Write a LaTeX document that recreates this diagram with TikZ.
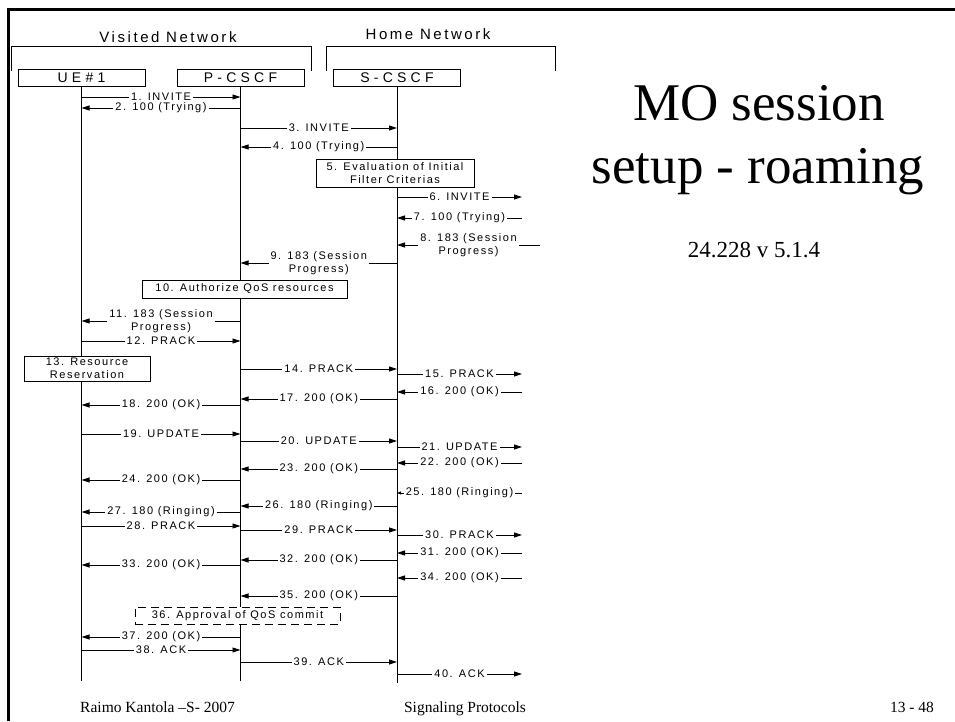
\documentclass[tikz,border=0pt]{standalone}
\usepackage{fontspec}
\setmainfont{Liberation Serif}
\newfontfamily\sanssp[LetterSpace=14]{Liberation Sans}
\newfontfamily\sanshdr[LetterSpace=17]{Liberation Sans}
\newfontfamily\sanswide[LetterSpace=30]{Liberation Sans}
\usetikzlibrary{arrows.meta}

\begin{document}
\begin{tikzpicture}[x=1pt, y=-1pt,
      ent/.style={draw, fill=white, line width=0.8pt, minimum width=127pt,
                  minimum height=17pt, inner sep=0pt,
                  font=\sanswide\fontsize{14}{16}\selectfont},
      act/.style={draw, fill=white, line width=0.8pt, inner sep=0pt, align=center,
                  font=\sanssp\fontsize{11}{13}\selectfont},
      lbl/.style={fill=white, inner xsep=2pt, inner ysep=0.5pt, align=center,
                  font=\sanssp\fontsize{11}{13}\selectfont},
      hdr/.style={font=\sanshdr\fontsize{15}{17}\selectfont},
      foot/.style={anchor=base, font=\fontsize{15.5}{18}\selectfont},
      life/.style={line width=0.8pt},
      >={Triangle[length=8pt,width=5pt]}, line width=0.8pt]
    \useasboundingbox (0,0) rectangle (955,721);
    \draw[line width=3pt] (8,721) -- (8,9.5) -- (955,9.5);

    % networks
    \node[hdr] (vis) at (168,37.5) {Visited Network};
    \node[hdr] (home) at (428,34) {Home Network};
    \draw (11.5,71) |- (311,46) -- (311,71);
    \draw (326,71) |- (555,46) -- (555,71);

    % entities and lifelines
    \node[ent] (ue) at (81.5,77.5) {UE\#1};
    \node[ent] (pc) at (240.5,77.5) {P-CSCF};
    \node[ent] (sc) at (397,77.5) {S-CSCF};
    \coordinate (ueEnd) at (81.5,681);
    \coordinate (pcEnd) at (240.5,681);
    \coordinate (scEnd) at (397,683);
    \coordinate (far) at (522,0);
    \coordinate (far8) at (540,0);
    \draw[life](ue)--(ueEnd);\draw[life](pc)--(pcEnd);\draw[life](sc)--(scEnd);

    % actions
    \node[act, minimum width=158pt, minimum height=28pt] (ifc) at (395,173)
      {5. Evaluation of Initial\\Filter Criterias};
    \node[act, minimum width=205pt, minimum height=18pt] (auth) at (244.5,289)
      {10. Authorize QoS resources};
    \node[act, minimum width=126pt, minimum height=25pt] (resv) at (87,368.5)
      {13. Resource\\Reservation};
    \node[act, dash pattern=on 8pt off 5pt, minimum width=205pt, minimum height=17pt]
      (commit) at (237.5,615.5) {36. Approval of QoS commit};

    % messages
    \draw[->](ue |- 0,97)--node[lbl]{1. INVITE}(pc |- 0,97);
    \draw[->](pc |- 0,108)--node[lbl]{2. 100 (Trying)}(ue |- 0,108);
    \draw[->](pc |- 0,128)--node[lbl]{3. INVITE}(sc |- 0,128);
    \draw[->](sc |- 0,147)--node[lbl]{4. 100 (Trying)}(pc |- 0,147);
    \draw[->](sc |- 0,197)--node[lbl]{6. INVITE}(far |- 0,197);
    \draw[->](far |- 0,218)--node[lbl]{7. 100 (Trying)}(sc |- 0,218);
    \draw[->](far8 |- 0,245)--node[lbl]{8. 183 (Session\\Progress)}(sc |- 0,245);
    \draw[->](sc |- 0,263)--node[lbl]{9. 183 (Session\\Progress)}(pc |- 0,263);
    \draw[->](pc |- 0,321)--node[lbl]{11. 183 (Session\\Progress)}(ue |- 0,321);
    \draw[->](ue |- 0,341)--node[lbl]{12. PRACK}(pc |- 0,341);
    \draw[->](pc |- 0,369)--node[lbl]{14. PRACK}(sc |- 0,369);
    \draw[->](sc |- 0,374)--node[lbl]{15. PRACK}(far |- 0,374);
    \draw[->](far |- 0,392)--node[lbl]{16. 200 (OK)}(sc |- 0,392);
    \draw[->](sc |- 0,399)--node[lbl]{17. 200 (OK)}(pc |- 0,399);
    \draw[->](pc |- 0,405)--node[lbl]{18. 200 (OK)}(ue |- 0,405);
    \draw[->](ue |- 0,434)--node[lbl]{19. UPDATE}(pc |- 0,434);
    \draw[->](pc |- 0,441)--node[lbl]{20. UPDATE}(sc |- 0,441);
    \draw[->](sc |- 0,447)--node[lbl]{21. UPDATE}(far |- 0,447);
    \draw[->](far |- 0,463)--node[lbl]{22. 200 (OK)}(sc |- 0,463);
    \draw[->](sc |- 0,469)--node[lbl]{23. 200 (OK)}(pc |- 0,469);
    \draw[->](pc |- 0,480)--node[lbl]{24. 200 (OK)}(ue |- 0,480);
    \draw[-{Triangle[length=4pt,width=3pt]}](far |- 0,493)
      --node[lbl]{25. 180 (Ringing)}(sc |- 0,493);
    \draw[->](sc |- 0,506)--node[lbl]{26. 180 (Ringing)}(pc |- 0,506);
    \draw[->](pc |- 0,512)--node[lbl]{27. 180 (Ringing)}(ue |- 0,512);
    \draw[->](ue |- 0,526)--node[lbl]{28. PRACK}(pc |- 0,526);
    \draw[->](pc |- 0,530)--node[lbl]{29. PRACK}(sc |- 0,530);
    \draw[->](sc |- 0,535)--node[lbl]{30. PRACK}(far |- 0,535);
    \draw[->](far |- 0,553)--node[lbl]{31. 200 (OK)}(sc |- 0,553);
    \draw[->](sc |- 0,560)--node[lbl]{32. 200 (OK)}(pc |- 0,560);
    \draw[->](pc |- 0,565)--node[lbl]{33. 200 (OK)}(ue |- 0,565);
    \draw[->](far |- 0,578)--node[lbl]{34. 200 (OK)}(sc |- 0,578);
    \draw[->](sc |- 0,596)--node[lbl]{35. 200 (OK)}(pc |- 0,596);
    \draw[->](pc |- 0,637)--node[lbl]{37. 200 (OK)}(ue |- 0,637);
    \draw[->](ue |- 0,650)--node[lbl]{38. ACK}(pc |- 0,650);
    \draw[->](pc |- 0,662)--node[lbl]{39. ACK}(sc |- 0,662);
    \draw[->](sc |- 0,674)--node[lbl]{40. ACK}(far |- 0,674);

    % title and footer
    \node[anchor=base, font=\fontsize{53}{63}\selectfont] (title1) at (759,120) {MO session};
    \node[anchor=base, font=\fontsize{53}{63}\selectfont] (title2) at (758,183) {setup - roaming};
    \node[anchor=base, font=\fontsize{23}{27}\selectfont] (ver) at (754,257) {24.228 v 5.1.4};
    \node[foot] (author) at (157.5,712) {Raimo Kantola –S- 2007};
    \node[foot] (course) at (465,712) {Signaling Protocols};
    \node[foot] (page) at (912,712) {13 - 48};
  \end{tikzpicture}
\end{document}
